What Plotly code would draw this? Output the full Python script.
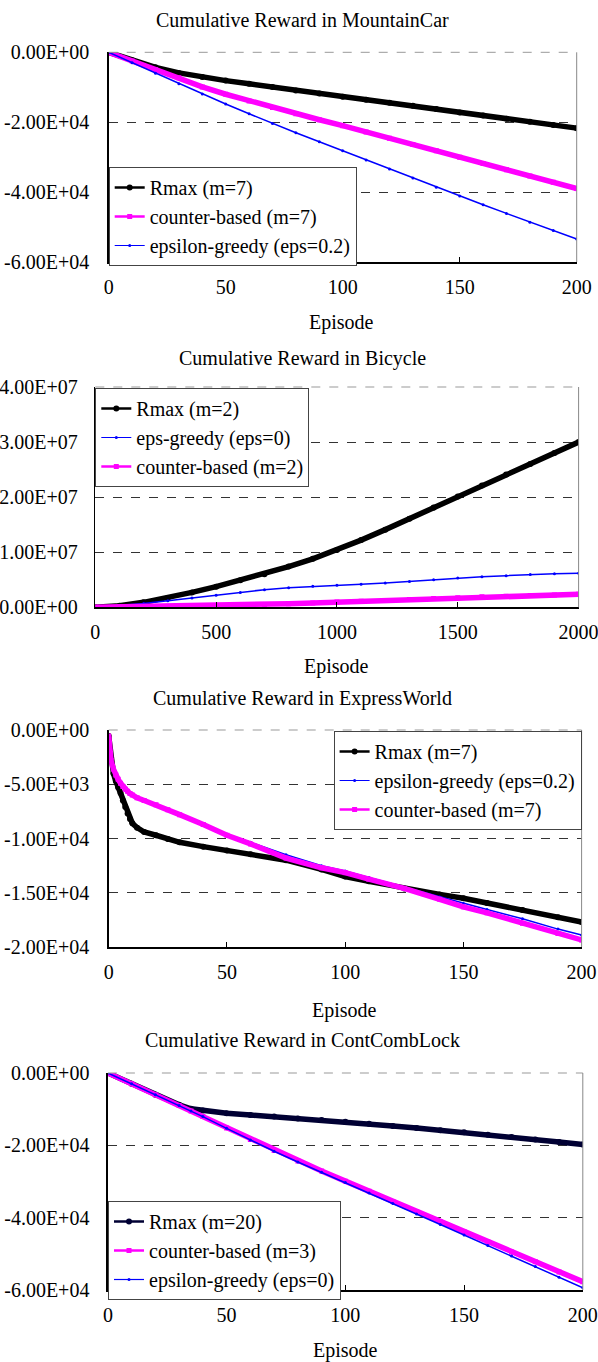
import plotly.graph_objects as go

# ---------------- data ----------------
# Panel 1: MountainCar
mc_ep = [0, 10, 20, 30, 40, 50, 60, 70, 80, 90, 100, 110, 120, 130, 140, 150, 160, 170, 180, 190, 200]
mc_rmax = [0, -2300, -4300, -5900, -7100, -8100, -9000, -9900, -10900, -11800, -12700,
           -13600, -14400, -15300, -16200, -17200, -18100, -19000, -19900, -20800, -21700]
mc_counter = [0, -2500, -5000, -7300, -9900, -12000, -13900, -15800, -17600, -19300, -21000,
              -22800, -24600, -26400, -28200, -30000, -31800, -33600, -35400, -37200, -39000]
mc_eps = [0, -3000, -6000, -9000, -11900, -14800, -17600, -20400, -23000, -25600, -28200,
          -30800, -33400, -36000, -38600, -41100, -43600, -46100, -48600, -51000, -53400]
mc_yticks = [-60000, -40000, -20000, 0]
mc_yticktext = ["-6.00E+04", "-4.00E+04", "-2.00E+04", "0.00E+00"]

# Panel 2: Bicycle
bc_ep = [0, 100, 200, 300, 400, 500, 600, 700, 800, 900, 1000, 1100, 1200, 1300, 1400, 1500,
         1600, 1700, 1800, 1900, 2000]
bc_rmax = [0, 0.03e7, 0.09e7, 0.17e7, 0.27e7, 0.375e7, 0.49e7, 0.60e7, 0.74e7, 0.88e7, 1.04e7,
           1.22e7, 1.41e7, 1.61e7, 1.81e7, 2.01e7, 2.21e7, 2.41e7, 2.60e7, 2.80e7, 3.00e7]
bc_eps = [0, 0.03e7, 0.07e7, 0.12e7, 0.17e7, 0.22e7, 0.27e7, 0.32e7, 0.355e7, 0.38e7, 0.40e7,
          0.42e7, 0.44e7, 0.47e7, 0.50e7, 0.53e7, 0.555e7, 0.575e7, 0.595e7, 0.61e7, 0.62e7]
bc_counter = [0, 0.005e7, 0.01e7, 0.015e7, 0.022e7, 0.03e7, 0.04e7, 0.05e7, 0.065e7, 0.08e7, 0.095e7,
              0.11e7, 0.125e7, 0.14e7, 0.16e7, 0.175e7, 0.19e7, 0.20e7, 0.215e7, 0.225e7, 0.235e7]
bc_yticks = [0, 1e7, 2e7, 3e7, 4e7]
bc_yticktext = ["0.00E+00", "1.00E+07", "2.00E+07", "3.00E+07", "4.00E+07"]

# Panel 3: ExpressWorld
ew_ep = [0, 1, 2, 3, 4, 5, 6, 7, 8, 9, 10, 12, 15, 20, 25, 30, 40, 50, 60, 75, 90, 100,
         110, 125, 140, 150, 160, 175, 190, 200]
ew_rmax = [-550, -2900, -4000, -4700, -5300, -5800, -6500, -7100, -7700, -8200, -8600, -9000,
           -9400, -9700, -10050, -10350, -10750, -11100, -11450, -12000, -12850, -13500,
           -13950, -14600, -15150, -15500, -15950, -16600, -17250, -17700]
ew_eps = [-550, -2800, -3600, -4150, -4550, -4900, -5200, -5450, -5650, -5850, -6000, -6250,
          -6500, -6900, -7350, -7800, -8650, -9600, -10350, -11500, -12500, -13000,
          -13600, -14500, -15400, -16000, -16550, -17400, -18350, -18900]
ew_counter = [-550, -2800, -3600, -4150, -4550, -4900, -5200, -5450, -5650, -5850, -6000, -6250,
              -6500, -6900, -7350, -7800, -8700, -9700, -10500, -11800, -12700, -13150,
              -13750, -14600, -15600, -16300, -16850, -17800, -18750, -19350]
ew_yticks = [-20000, -15000, -10000, -5000, 0]
ew_yticktext = ["-2.00E+04", "-1.50E+04", "-1.00E+04", "-5.00E+03", "0.00E+00"]

# Panel 4: ContCombLock
cl_ep = [0, 10, 20, 30, 35, 40, 50, 60, 70, 80, 90, 100, 110, 120, 130, 140, 150, 160, 170, 180, 190, 200]
cl_rmax = [0, -3000, -6000, -8800, -9900, -10400, -11150, -11600, -12050, -12550, -13000, -13500,
           -14050, -14650, -15200, -15800, -16400, -17050, -17700, -18400, -19100, -19800]
cl_counter = [0, -3000, -6000, -9000, -10500, -12000, -15200, -18400, -21400, -24300, -27100, -29900,
              -32700, -35500, -38300, -41100, -43900, -46700, -49500, -52200, -55000, -57700]
cl_eps = [0, -3000, -6000, -9000, -10500, -12050, -15300, -18550, -21650, -24600, -27450, -30300,
          -33200, -36100, -39000, -41900, -44800, -47700, -50600, -53500, -56450, -59400]
cl_yticks = [-60000, -40000, -20000, 0]
cl_yticktext = ["-6.00E+04", "-4.00E+04", "-2.00E+04", "0.00E+00"]

titles = ["Cumulative Reward in MountainCar", "Cumulative Reward in Bicycle",
          "Cumulative Reward in ExpressWorld", "Cumulative Reward in ContCombLock"]
x_label = "Episode"

# ---------------- layout geometry (pixels) ----------------
W, H = 598, 1362
FONT = "Liberation Serif"
FS = 20

def px_x(p):
    return p / W

def px_y(p):
    return 1 - p / H

panels = [
    dict(x0=108.7, x1=576.7, y0=52.3, y1=262.0, ystand=14),
    dict(x0=95.3, x1=578.6, y0=387.0, y1=607.3, ystand=12),
    dict(x0=108.7, x1=581.6, y0=730.0, y1=947.0, ystand=14),
    dict(x0=107.9, x1=582.8, y0=1073.0, y1=1290.0, ystand=13),
]

BLACK = "#000000"
MAG = "#FF00FF"
BLUE = "#0000FF"
NAVY = "#000033"

STYLES = {
    "rmax": dict(line_w=5.5, sym="circle", msize=6, leg_w=2.5, leg_m=6),
    "counter": dict(line_w=5.5, sym="square", msize=5, leg_w=2.5, leg_m=5),
    "eps": dict(line_w=1.5, sym="circle", msize=3, leg_w=1.2, leg_m=3),
}

fig = go.Figure()

def add_series(x, y, name, kind, color, idx, order):
    sfx = "" if idx == 0 else str(idx + 1)
    st = STYLES[kind]
    fig.add_trace(go.Scatter(
        x=x, y=y, name=name, mode="lines+markers",
        line=dict(color=color, width=st["line_w"]),
        marker=dict(symbol=st["sym"], size=st["msize"], color=color),
        xaxis="x" + sfx, yaxis="y" + sfx, showlegend=False,
    ))
    # legend entry (thin line + marker, as in the original key)
    fig.add_trace(go.Scatter(
        x=[None], y=[None], name=name, mode="lines+markers",
        line=dict(color=color, width=st["leg_w"]),
        marker=dict(symbol=st["sym"], size=st["leg_m"], color=color),
        xaxis="x" + sfx, yaxis="y" + sfx, showlegend=True,
        legend="legend" + sfx, legendgroup="g%d_%d" % (idx, order),
    ))

add_series(mc_ep, mc_rmax, "Rmax (m=7)", "rmax", BLACK, 0, 0)
add_series(mc_ep, mc_counter, "counter-based (m=7)", "counter", MAG, 0, 1)
add_series(mc_ep, mc_eps, "epsilon-greedy (eps=0.2)", "eps", BLUE, 0, 2)

add_series(bc_ep, bc_rmax, "Rmax (m=2)", "rmax", BLACK, 1, 0)
add_series(bc_ep, bc_eps, "eps-greedy (eps=0)", "eps", BLUE, 1, 1)
add_series(bc_ep, bc_counter, "counter-based (m=2)", "counter", MAG, 1, 2)

add_series(ew_ep, ew_rmax, "Rmax (m=7)", "rmax", BLACK, 2, 0)
add_series(ew_ep, ew_eps, "epsilon-greedy (eps=0.2)", "eps", BLUE, 2, 1)
add_series(ew_ep, ew_counter, "counter-based (m=7)", "counter", MAG, 2, 2)

add_series(cl_ep, cl_rmax, "Rmax (m=20)", "rmax", NAVY, 3, 0)
add_series(cl_ep, cl_counter, "counter-based (m=3)", "counter", MAG, 3, 1)
add_series(cl_ep, cl_eps, "epsilon-greedy (eps=0)", "eps", BLUE, 3, 2)

x_ranges = [[0, 200], [0, 2000], [0, 200], [0, 200]]
x_dticks = [50, 500, 50, 50]
y_ranges = [[-60000, 0], [0, 4e7], [-20000, 0], [-60000, 0]]
y_tickvals = [mc_yticks, bc_yticks, ew_yticks, cl_yticks]
y_ticktexts = [mc_yticktext, bc_yticktext, ew_yticktext, cl_yticktext]

layout = dict(
    template="none",
    width=W, height=H,
    margin=dict(l=0, r=0, t=0, b=0, pad=0, autoexpand=False),
    paper_bgcolor="white", plot_bgcolor="white",
    font=dict(family=FONT, size=FS, color="black"),
    showlegend=True,
    hovermode=False,
)

annotations = []
shapes = []
for i, p in enumerate(panels):
    sfx = "" if i == 0 else str(i + 1)
    layout["xaxis" + sfx] = dict(
        domain=[px_x(p["x0"]), px_x(p["x1"])],
        anchor="y" + sfx, range=x_ranges[i], dtick=x_dticks[i], tick0=0,
        showline=True, linecolor="black", linewidth=1.5,
        ticks="inside", ticklen=5, tickcolor="black", tickwidth=1,
        showgrid=False, zeroline=False, automargin=False, ticklabeloverflow="allow",
        tickfont=dict(family=FONT, size=FS, color="black"), ticklabelstandoff=6,
    )
    layout["yaxis" + sfx] = dict(
        domain=[px_y(p["y1"]), px_y(p["y0"])],
        anchor="x" + sfx, range=y_ranges[i],
        tickmode="array", tickvals=y_tickvals[i], ticktext=y_ticktexts[i],
        showline=True, linecolor="black", linewidth=1.5,
        ticks="", showgrid=True, gridcolor="black", griddash="dash", gridwidth=0.8,
        zeroline=False, automargin=False, ticklabeloverflow="allow",
        tickfont=dict(family=FONT, size=FS, color="black"), ticklabelstandoff=p["ystand"],
    )
    shapes.append(dict(type="line", xref="x" + sfx + " domain", yref="y" + sfx + " domain",
                       x0=0, x1=1, y0=1, y1=1, line=dict(color="#999999", width=1, dash="dash"), layer="above"))
    shapes.append(dict(type="line", xref="x" + sfx + " domain", yref="y" + sfx + " domain",
                       x0=1, x1=1, y0=0, y1=1, line=dict(color="#888888", width=1), layer="above"))

title_y = [20, 359, 698, 1040]
ep_pos = [(341.7, 323), (336.8, 667), (344.8, 1010), (345.5, 1350)]
for i in range(4):
    annotations.append(dict(text=titles[i], x=px_x(302.5), y=px_y(title_y[i]), xref="paper", yref="paper",
                            showarrow=False, xanchor="center", yanchor="middle",
                            font=dict(family=FONT, size=FS, color="black")))
    annotations.append(dict(text=x_label, x=px_x(ep_pos[i][0]), y=px_y(ep_pos[i][1]), xref="paper", yref="paper",
                            showarrow=False, xanchor="center", yanchor="middle",
                            font=dict(family=FONT, size=FS, color="black")))

leg_common = dict(bgcolor="white", bordercolor="#444444", borderwidth=1,
                  font=dict(family=FONT, size=FS, color="black"), traceorder="grouped", tracegroupgap=0,
                  itemwidth=30, yanchor="top")
layout["legend"] = dict(x=px_x(108.7), y=px_y(167), xanchor="left", **leg_common)
layout["legend2"] = dict(x=px_x(95.3), y=px_y(388), xanchor="left", **leg_common)
layout["legend3"] = dict(x=px_x(581.6), y=px_y(731), xanchor="right", **leg_common)
layout["legend4"] = dict(x=px_x(108), y=px_y(1201), xanchor="left", **leg_common)

layout["annotations"] = annotations
layout["shapes"] = shapes
fig.update_layout(**layout)

fig.write_html("out.html",
               config={"displayModeBar": False, "staticPlot": True},
               post_script="document.body.style.margin='0';document.body.style.overflow='hidden';")
